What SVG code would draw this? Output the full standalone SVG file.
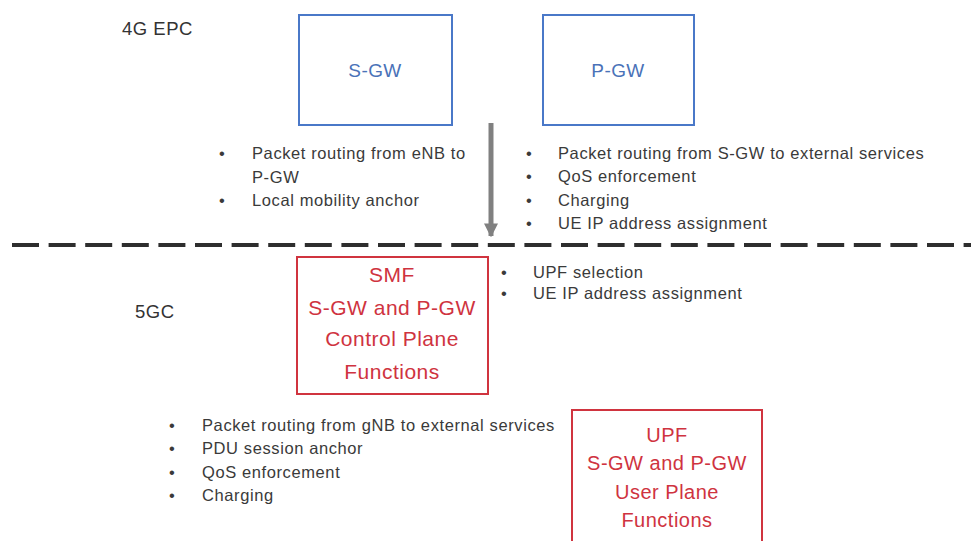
<svg xmlns="http://www.w3.org/2000/svg" width="971" height="541" viewBox="0 0 971 541">
<style>
.bg{fill:#ffffff}
.blue{fill:none;stroke:#4a78c8;stroke-width:2}
.red{fill:none;stroke:#d0343f;stroke-width:2}
.bt{font-family:"Liberation Sans",Arial,sans-serif;font-size:19px;fill:#4a72b8;text-anchor:middle;letter-spacing:0.4px}
.rt{font-family:"Liberation Sans",Arial,sans-serif;fill:#cf3340;text-anchor:middle;letter-spacing:0.5px}
.lbl{font-family:"Liberation Sans",Arial,sans-serif;font-size:18.5px;fill:#333333;letter-spacing:0.5px}
.txt{font-family:"Liberation Sans",Arial,sans-serif;font-size:16.5px;fill:#3a3a3a;letter-spacing:0.6px}
.dash{stroke:#2e2e2e;stroke-width:4;stroke-dasharray:27 9.6;fill:none}
.arr{stroke:#808080;stroke-width:5;fill:none}
</style>
<defs>
<marker id="ah" viewBox="0 0 10 10" refX="9" refY="5" markerWidth="2.8" markerHeight="3" orient="auto" markerUnits="strokeWidth">
<path d="M0,0 L10,5 L0,10 Z" fill="#808080"/>
</marker>
</defs>
<rect class="bg" x="0" y="0" width="971" height="541"/>

<text class="lbl" x="122" y="35">4G EPC</text>
<text class="lbl" x="135" y="318">5GC</text>

<g id="sgw">
<rect class="blue" x="299" y="15" width="153" height="110"/>
<text class="bt" x="375" y="77">S-GW</text>
</g>
<g id="pgw">
<rect class="blue" x="543" y="15" width="151" height="110"/>
<text class="bt" x="618" y="77">P-GW</text>
</g>
<g id="smf">
<rect class="red" x="297" y="257" width="191" height="137"/>
<text class="rt" font-size="21" x="392" y="282">SMF</text>
<text class="rt" font-size="21" x="392" y="315">S-GW and P-GW</text>
<text class="rt" font-size="21" x="392" y="346">Control Plane</text>
<text class="rt" font-size="21" x="392" y="379">Functions</text>
</g>
<g id="upf">
<rect class="red" x="572" y="410" width="190" height="160"/>
<text class="rt" font-size="20" x="667" y="442">UPF</text>
<text class="rt" font-size="20" x="667" y="470">S-GW and P-GW</text>
<text class="rt" font-size="20" x="667" y="499">User Plane</text>
<text class="rt" font-size="20" x="667" y="527">Functions</text>
</g>

<g id="sgw-notes" class="txt">
<text x="219" y="159">•</text><text x="252" y="159">Packet routing from eNB to</text>
<text x="252" y="183">P-GW</text>
<text x="219" y="206">•</text><text x="252" y="206">Local mobility anchor</text>
</g>
<g id="pgw-notes" class="txt">
<text x="526" y="159">•</text><text x="558" y="159">Packet routing from S-GW to external services</text>
<text x="526" y="182">•</text><text x="558" y="182">QoS enforcement</text>
<text x="526" y="206">•</text><text x="558" y="206">Charging</text>
<text x="526" y="229">•</text><text x="558" y="229">UE IP address assignment</text>
</g>
<g id="smf-notes" class="txt">
<text x="501" y="278">•</text><text x="533" y="278">UPF selection</text>
<text x="501" y="299">•</text><text x="533" y="299">UE IP address assignment</text>
</g>
<g id="upf-notes" class="txt">
<text x="169" y="431">•</text><text x="202" y="431">Packet routing from gNB to external services</text>
<text x="169" y="454">•</text><text x="202" y="454">PDU session anchor</text>
<text x="169" y="478">•</text><text x="202" y="478">QoS enforcement</text>
<text x="169" y="501">•</text><text x="202" y="501">Charging</text>
</g>

<g id="connectors">
<line class="arr" x1="491" y1="123" x2="491" y2="236" marker-end="url(#ah)"/>
<line class="dash" x1="12" y1="245" x2="971" y2="245"/>
</g>
</svg>
